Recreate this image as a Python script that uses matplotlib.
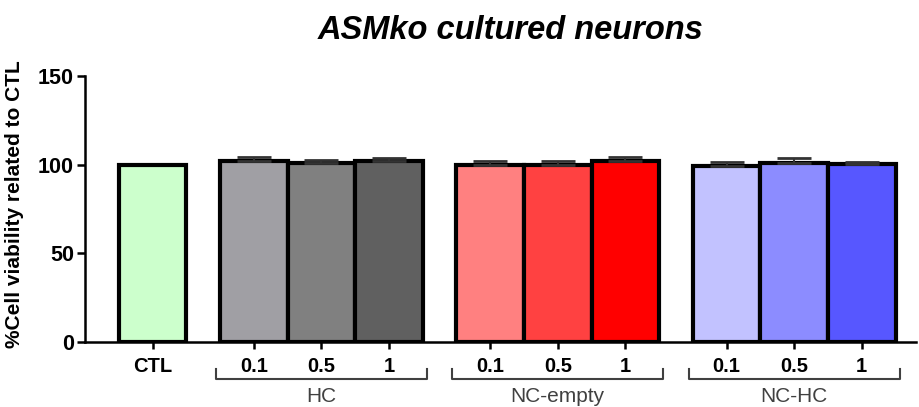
import numpy as np
import matplotlib
matplotlib.use('Agg')
import matplotlib.pyplot as plt
import matplotlib.transforms as mtransforms

plt.rcParams['font.family'] = ['Liberation Sans', 'DejaVu Sans']

# Data: % cell viability relative to CTL (mean and upper SEM)
tick_labels = ['CTL', '0.1', '0.5', '1', '0.1', '0.5', '1', '0.1', '0.5', '1']
means = [100, 101.9, 101.1, 101.9, 100.0, 100.0, 102.3, 99.3, 100.7, 100.4]
errs = [0, 2.5, 1.7, 1.9, 1.9, 2.1, 1.9, 2.0, 3.2, 1.0]
colors = ['#CCFFCC', '#A09FA4', '#808080', '#606060',
          '#FF8080', '#FF4141', '#FF0000',
          '#C2C2FF', '#8C8CFF', '#5757FF']
groups = ['HC', 'NC-empty', 'NC-HC']

# bar positions: CTL alone, then three groups of three with a half-bar gap
pos = np.array([0, 1.5, 2.5, 3.5, 5, 6, 7, 8.5, 9.5, 10.5])
group_centers = [2.5, 6.0, 9.5]

fig = plt.figure(figsize=(9.19, 4.07), dpi=100)
ax = fig.add_axes([0.0925, 0.1597, 0.904, 0.6536])

ax.bar(pos, means, width=1.0, color=colors, edgecolor='black', linewidth=3, zorder=2)
ax.errorbar(pos[1:], means[1:], yerr=[np.zeros(len(errs) - 1), errs[1:]],
            fmt='none', ecolor='#333333', elinewidth=1.5, capsize=12.5, capthick=2,
            zorder=3)

ax.set_xlim(-1.0, 11.3)
ax.set_ylim(0, 150)
ax.set_yticks([0, 50, 100, 150])
ax.set_xticks(pos)
ax.set_xticklabels(tick_labels)

for s in ['top', 'right']:
    ax.spines[s].set_visible(False)
for s in ['left', 'bottom']:
    ax.spines[s].set_linewidth(1.8)

ax.tick_params(axis='y', length=6, width=1.8, labelsize=15.5, pad=2)
ax.tick_params(axis='x', length=5, width=1.8, labelsize=14.5, pad=6)
for lab in ax.get_xticklabels() + ax.get_yticklabels():
    lab.set_fontweight('bold')

ax.set_ylabel('%Cell viability related to CTL', fontsize=15, fontweight='bold')
ax.yaxis.set_label_coords(-0.073, 0.52)

fig.text(0.556, 0.925, 'ASMko cultured neurons', ha='center', va='center',
         fontsize=23.5, fontweight='bold', fontstyle='italic')

# group brackets under the tick labels
trans = mtransforms.blended_transform_factory(ax.transData, ax.transAxes)
for c, name in zip(group_centers, groups):
    x0, x1 = c - 1.56, c + 1.56
    ax.plot([x0, x0, x1, x1], [-0.10, -0.139, -0.139, -0.10], transform=trans,
            color='#404040', linewidth=1.5, clip_on=False)
    ax.text(c, -0.205, name, transform=trans, ha='center', va='center',
            fontsize=15, color='#404040')

fig.savefig('out.png', dpi=100)
